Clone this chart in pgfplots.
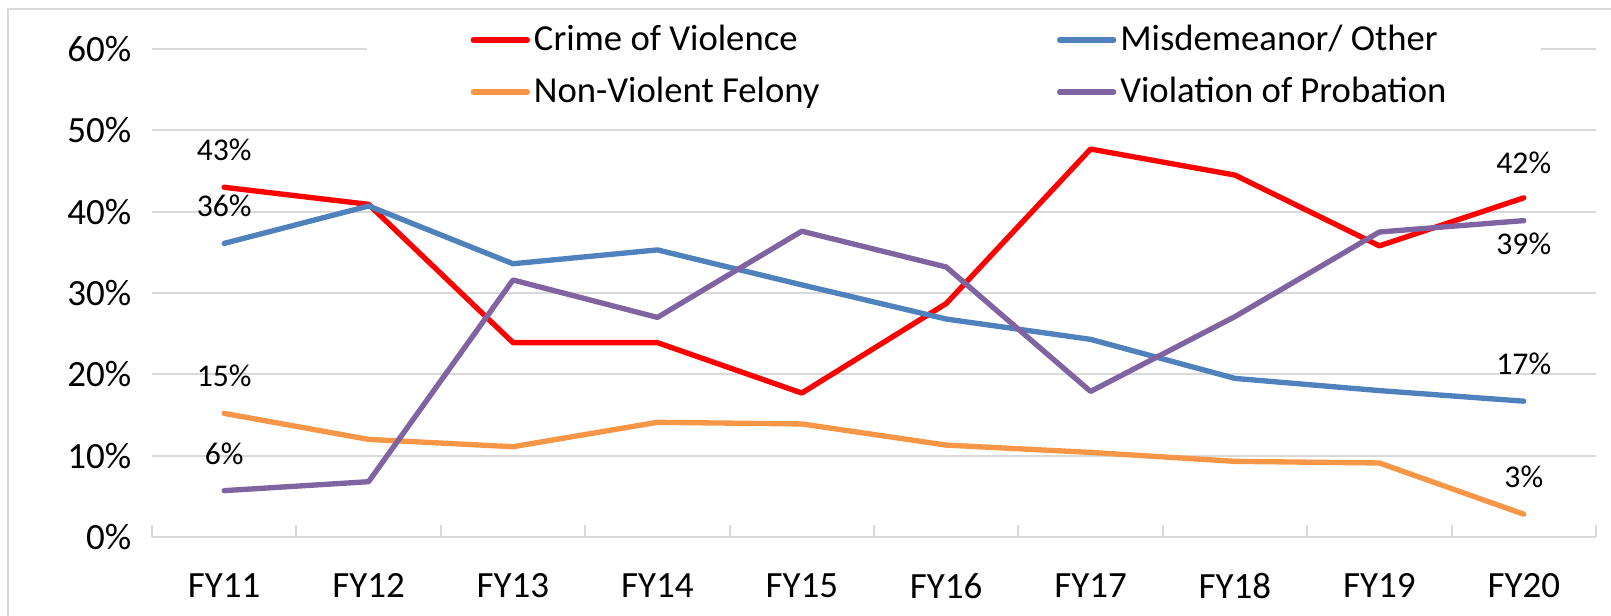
\documentclass[border=0pt]{standalone}
\usepackage{fontspec}
\setmainfont{Carlito}
\usepackage{pgfplots}
\pgfplotsset{compat=1.18}
\definecolor{cviol}{HTML}{FF0000}
\definecolor{cmisd}{HTML}{4F81BD}
\definecolor{cnonv}{HTML}{F79646}
\definecolor{cprob}{HTML}{8064A2}
\definecolor{gridgray}{HTML}{D9D9D9}

\begin{document}
\begin{tikzpicture}[x=0.3pt,y=0.3pt]
\path[use as bounding box] (0,0) rectangle (1611,616);
\draw[gridgray, line width=0.6pt] (8,0) -- (8,607) -- (1611,607);
\begin{axis}[
  at={(45.6pt,23.7pt)}, anchor=south west,
  scale only axis, width=433.2pt, height=146.4pt,
  xmin=-0.5, xmax=9.5, ymin=0, ymax=60,
  clip=false,
  xtick={0,...,9},
  xticklabels={FY11,FY12,FY13,FY14,FY15,FY16,FY17,FY18,FY19,FY20},
  minor xtick={-0.5,0.5,...,9.5},
  ytick={0,10,20,30,40,50,60},
  yticklabels={0\%,10\%,20\%,30\%,40\%,50\%,60\%},
  major tick length=0pt, minor tick length=3.6pt, tick align=inside,
  minor tick style={gridgray, line width=0.6pt},
  axis x line*=bottom, axis y line*=left,
  x axis line style={gridgray, line width=0.6pt},
  y axis line style={draw=none},
  ymajorgrids, grid style={gridgray, line width=0.6pt},
  tick label style={font=\fontsize{11.1}{13}\selectfont, inner sep=0pt},
  yticklabel style={anchor=east, xshift=-6pt},
  xticklabel style={anchor=north, yshift=-10.8pt},
  legend columns=2,
  legend cell align=left,
  legend style={draw=none, fill=none, inner sep=0pt, at={(0.2202,0.965)}, anchor=west,
    font=\fontsize{11}{13}\selectfont,
    /tikz/every even column/.append style={column sep=70pt},
    nodes={inner xsep=1.2pt, inner ysep=0pt, text height=8pt, text depth=2pt},
    row sep=5.6pt},
  legend image code/.code={\draw[#1] (0pt,0pt) -- (16.2pt,0pt);},
  every axis plot/.append style={line width=1.6pt, line cap=round, line join=round, no marks},
]
% white patch behind the legend cuts the 60% gridline, as in the original
\fill[white] (rel axis cs:0.1489,0.97) rectangle (rel axis cs:0.9619,1.03);

\addplot[cviol] coordinates {(0,43.0)(1,40.9)(2,23.9)(3,23.9)(4,17.7)(5,28.7)(6,47.7)(7,44.5)(8,35.8)(9,41.7)};
\addlegendentry{Crime of Violence}
\addplot[cmisd] coordinates {(0,36.1)(1,40.7)(2,33.6)(3,35.3)(4,31.0)(5,26.8)(6,24.3)(7,19.5)(8,18.0)(9,16.7)};
\addlegendentry{Misdemeanor/ Other}
\addplot[cnonv] coordinates {(0,15.2)(1,12.0)(2,11.1)(3,14.1)(4,13.9)(5,11.3)(6,10.4)(7,9.3)(8,9.1)(9,2.8)};
\addlegendentry{Non-Violent Felony}
\addplot[cprob] coordinates {(0,5.7)(1,6.8)(2,31.6)(3,27.0)(4,37.6)(5,33.2)(6,17.9)(7,27.1)(8,37.5)(9,38.9)};
\addlegendentry{Violation of Probation}

% data labels at first and last year
\begin{scope}[every node/.style={font=\fontsize{9.5}{11}\selectfont, inner sep=0pt}]
\node at (axis cs:0,47.6) {43\%};
\node at (axis cs:0,40.7) {36\%};
\node at (axis cs:0,19.8) {15\%};
\node at (axis cs:0,10.2) {6\%};
\node at (axis cs:9,46.0) {42\%};
\node at (axis cs:9,36.1) {39\%};
\node at (axis cs:9,21.3) {17\%};
\node at (axis cs:9,7.4) {3\%};
\end{scope}
\end{axis}
\end{tikzpicture}
\end{document}
